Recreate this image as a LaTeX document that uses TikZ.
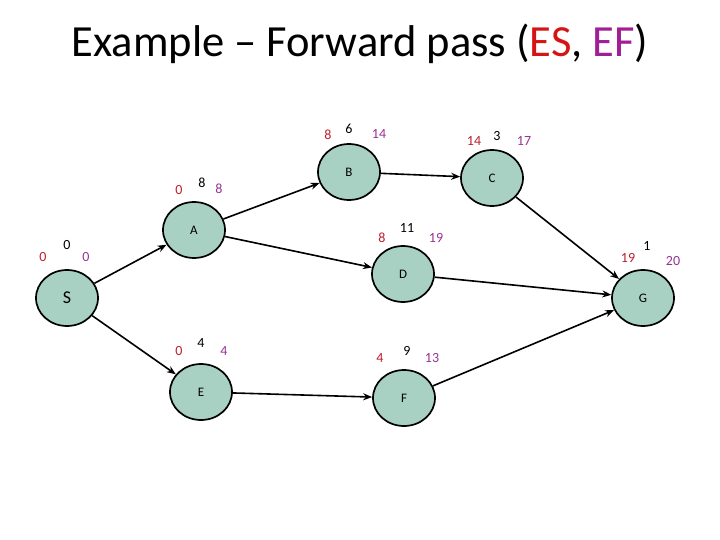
\documentclass[tikz,border=0pt]{standalone}
\usepackage{fontspec}
\setmainfont{Carlito}
\usetikzlibrary{shapes.geometric,arrows.meta}
\definecolor{nodefill}{RGB}{168,209,196}
\definecolor{esred}{RGB}{190,30,45}
\definecolor{efpurple}{RGB}{150,50,150}
\definecolor{titlered}{RGB}{215,20,20}
\definecolor{titlepurple}{RGB}{160,30,150}
\tikzset{
  act/.style={ellipse, draw=black, line width=1.7pt, fill=nodefill, minimum width=62pt, minimum height=56pt, inner sep=0pt, font=\fontsize{13}{15}\selectfont},
  conn/.style={line width=1.6pt, -{Stealth[length=9pt,width=7pt]}},
  es/.style={text=esred, font=\fontsize{14}{16}\selectfont},
  ef/.style={text=efpurple, font=\fontsize{14}{16}\selectfont},
  dur/.style={text=black, font=\fontsize{14}{16}\selectfont}
}
\begin{document}
\begin{tikzpicture}[x=1pt,y=-1pt]
\useasboundingbox (0,0) rectangle (720,540);
\node (title) at (360,44) {\fontsize{44.5}{52}\selectfont Example – Forward pass (\textcolor{titlered}{ES}, \textcolor{titlepurple}{EF})};
\node[act, font=\fontsize{18}{20}\selectfont] (S) at (67,298) {S};
\node[act] (A) at (194,230) {A};
\node[act] (B) at (349,172) {B};
\node[act] (C) at (492,178) {C};
\node[act] (D) at (403,274) {D};
\node[act] (G) at (643,298) {G};
\node[act] (E) at (201,392) {E};
\node[act] (F) at (404,398) {F};
% labels
\node[es] (Ses) at (43,257) {0}; \node[dur] (Sd) at (67,245) {0}; \node[ef] (Sef) at (86,257) {0};
\node[es] (Aes) at (179,190) {0}; \node[dur] (Ad) at (202,183) {8}; \node[ef] (Aef) at (219,189) {8};
\node[es] (Bes) at (328,135) {8}; \node[dur] (Bd) at (349,129) {6}; \node[ef] (Bef) at (379,134) {14};
\node[es] (Ces) at (474,141) {14}; \node[dur] (Cd) at (497,136) {3}; \node[ef] (Cef) at (524,141) {17};
\node[es] (Des) at (382,238) {8}; \node[dur] (Dd) at (407,228) {11}; \node[ef] (Def) at (436,238) {19};
\node[es] (Ges) at (628,258) {19}; \node[dur] (Gd) at (647,246) {1}; \node[ef] (Gef) at (673,261) {20};
\node[es] (Ees) at (179,351) {0}; \node[dur] (Ed) at (201,343) {4}; \node[ef] (Eef) at (224,351) {4};
\node[es] (Fes) at (380,358) {4}; \node[dur] (Fd) at (407,351) {9}; \node[ef] (Fef) at (432,358) {13};
% connectors
\draw[conn] (S) -- (A);
\draw[conn] (A) -- (B);
\draw[conn] (A) -- (D);
\draw[conn] (B) -- (C);
\draw[conn] (C) -- (G);
\draw[conn] (D) -- (G);
\draw[conn] (S) -- (E);
\draw[conn] (E) -- (F);
\draw[conn] (F) -- (G);
\end{tikzpicture}
\end{document}
